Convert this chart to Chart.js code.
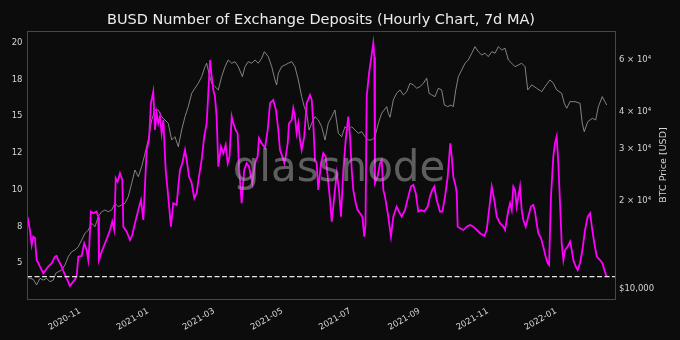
<!DOCTYPE html>
<html><head><meta charset="utf-8">
<script src="https://cdn.jsdelivr.net/npm/chart.js@4.4.1/dist/chart.umd.min.js"></script>
<style>html,body{margin:0;padding:0;background:#0c0c0c;}#wrap{width:680px;height:340px;}</style>
</head><body><div id="wrap"><canvas id="c" width="680" height="340"></canvas></div>
<script>
const titleText = 'BUSD Number of Exchange Deposits (Hourly Chart, 7d MA)';
const rightAxisTitle = 'BTC Price [USD]';
const watermarkText = 'glassnode';
// days since 2020-11-01
const depositDays = [-46.8,-44.8,-43.2,-41.8,-40.3,-38.8,-37.3,-35.8,-32.8,-30.7,-28.4,-25.3,-22.4,-20.9,-19.4,-16.4,-14.1,-11.9,-9.0,-6.0,-3.0,-1.5,1.5,3.8,6.0,7.4,8.3,9.8,11.9,14.9,16.4,17.0,19.4,22.4,24.8,26.9,28.9,30.7,32.0,33.7,35.8,37.9,38.8,41.8,44.8,46.8,49.2,52.2,54.6,56.7,59.7,61.8,63.5,65.6,67.1,68.6,70.1,71.6,73.1,74.6,76.7,79.0,81.4,83.5,86.5,88.0,89.5,91.6,94.0,95.5,97.6,100.0,102.3,104.4,106.5,108.9,111.2,113.4,116.4,117.9,119.3,120.8,122.3,123.8,126.2,128.3,130.4,132.2,133.8,135.8,137.2,139.4,141.1,142.3,144.7,147.0,149.2,151.3,153.0,154.2,156.6,159.0,160.2,162.6,165.6,168.0,170.1,173.0,175.4,177.5,179.0,181.1,182.9,184.1,185.9,187.1,189.5,190.9,192.4,193.9,195.4,196.9,198.4,200.7,202.9,205.9,207.4,208.8,210.3,211.8,213.3,215.7,217.8,219.9,221.7,223.8,225.3,227.6,229.8,231.8,233.6,235.7,237.8,240.1,241.7,243.2,244.6,246.8,248.5,250.6,252.7,254.4,255.5,256.6,258.7,260.4,262.5,263.4,264.0,266.4,268.5,270.0,271.5,273.0,275.9,278.3,280.4,283.4,285.5,287.9,290.9,293.8,296.2,298.3,300.5,302.8,305.2,308.1,311.2,313.2,315.3,317.1,319.2,322.2,324.3,326.7,329.1,331.4,332.7,334.1,336.3,337.2,338.0,340.1,343.1,346.1,349.1,352.0,355.1,358.0,361.9,364.0,366.1,368.5,370.8,373.0,375.9,378.9,380.4,383.4,384.9,386.4,387.8,389.3,390.8,392.3,393.8,395.3,396.8,398.9,401.2,403.6,405.7,407.2,408.7,410.2,412.6,414.6,416.8,418.6,419.8,421.5,423.6,425.1,426.6,428.1,429.6,431.1,432.6,434.1,436.5,438.6,440.1,441.5,443.7,445.4,447.5,449.6,452.0,454.4,456.5,458.5,460.3,462.5,465.4,467.5,469.3,470.8,471.7];
const depositValues = [8.13,7.26,6.24,6.81,6.72,5.22,5.02,4.77,4.32,4.54,4.77,5.0,5.45,5.5,5.22,4.77,4.32,3.98,3.46,3.75,4.09,5.45,5.5,6.36,5.9,5.22,6.13,8.51,8.4,8.51,8.17,5.22,5.79,6.36,6.81,7.26,7.83,7.26,10.78,10.55,11.12,10.66,7.49,7.15,6.58,6.92,7.72,8.62,9.3,7.94,12.7,13.38,15.88,16.67,14.06,15.2,14.52,14.97,13.84,14.74,11.34,9.53,7.49,9.08,8.96,10.21,11.34,11.8,12.7,12.02,10.89,10.44,9.42,9.76,10.89,12.02,13.61,14.52,18.82,17.69,16.78,16.33,14.97,11.57,12.93,12.48,13.04,11.8,12.23,14.97,14.52,14.06,13.84,11.57,9.08,11.34,11.8,11.57,10.89,10.44,11.8,12.25,13.5,13.16,12.84,14.06,15.88,16.1,15.42,14.06,12.7,12.25,11.8,12.25,13.16,14.52,14.74,15.54,14.97,13.84,14.52,13.38,12.7,13.61,15.88,16.44,16.1,14.52,12.02,11.82,9.98,11.8,12.48,12.25,10.89,9.3,7.83,9.53,11.12,9.98,8.17,11.34,13.38,14.97,13.61,11.34,9.98,9.08,8.62,8.4,8.17,6.81,7.6,16.33,17.92,18.82,19.96,19.04,10.44,10.89,11.8,12.02,9.98,9.53,8.17,6.81,8.17,8.85,8.51,8.17,8.62,9.53,10.21,10.32,9.76,8.51,8.62,8.51,8.85,9.53,9.98,10.21,9.3,8.51,8.51,9.53,10.89,13.16,12.25,10.89,10.21,9.76,7.49,7.38,7.26,7.49,7.6,7.49,7.26,7.04,6.86,7.26,8.62,10.21,9.3,8.17,7.72,7.49,7.26,8.62,9.08,8.62,10.21,9.98,8.85,9.53,10.21,8.62,7.94,7.49,8.17,8.85,8.96,8.51,7.72,7.04,6.7,6.13,5.45,5.0,4.88,9.53,12.25,13.16,13.61,11.8,9.08,6.36,5.22,5.9,6.13,6.47,5.9,5.22,4.77,4.54,5.0,5.9,7.26,8.17,8.4,7.26,6.36,5.45,5.22,5.0,4.54,4.2,4.09];
const btcDays = [-47.7,-44.8,-41.8,-38.8,-35.8,-32.8,-29.8,-26.9,-23.9,-21.7,-19.4,-16.4,-13.4,-10.5,-7.4,-4.5,-1.5,1.5,4.5,7.4,10.5,13.4,16.4,19.4,22.4,25.3,28.4,31.3,34.3,37.3,40.3,43.2,46.3,49.2,52.2,55.2,57.5,61.1,64.2,67.1,70.1,73.1,76.1,79.0,82.1,85.0,88.0,91.0,94.0,96.9,100.0,102.9,105.9,108.9,111.9,113.4,115.4,117.9,120.8,123.8,126.8,129.8,132.7,135.8,138.7,141.7,145.3,147.7,150.6,153.7,156.6,159.6,162.6,165.0,168.5,171.6,174.5,176.0,177.5,180.5,183.5,186.4,189.5,192.4,195.4,198.4,200.7,202.9,205.0,207.4,210.3,213.3,216.3,219.3,222.2,225.3,228.2,231.2,234.2,237.2,240.1,243.2,246.1,249.1,252.1,255.1,258.0,261.1,264.0,267.0,270.0,274.5,275.9,277.5,280.4,283.4,286.4,289.4,292.4,295.4,298.3,301.4,304.3,307.3,310.3,312.4,314.8,317.7,320.7,323.7,326.1,329.1,332.0,334.1,336.3,338.6,341.6,344.6,347.5,350.6,353.5,356.5,359.5,362.5,365.4,368.5,371.4,374.4,377.4,380.4,383.4,386.4,389.3,392.3,395.3,398.3,400.7,404.3,408.7,413.2,416.2,420.6,423.6,426.6,431.1,433.4,435.6,438.5,443.0,447.5,449.5,451.3,454.4,458.5,461.5,463.9,467.4,469.8,471.4];
const btcPrices = [11010,10870,10790,10320,10870,10730,10870,10590,10730,11310,11450,11600,12070,12880,13390,13580,13930,14680,15470,15870,16730,16290,17620,18320,18570,18320,18570,19570,19050,19310,19570,20610,22880,25400,24100,26060,28180,32120,37570,40630,40630,38550,37570,36610,32120,32960,30480,34740,38550,41690,46310,48160,50100,52750,57030,58580,54160,50100,48760,47530,52750,57030,60110,58580,59310,57030,52750,57030,59310,58580,60110,58580,60920,64140,61680,57030,51410,49440,54160,57030,57790,58580,59310,57030,51410,45100,41690,39600,34740,36610,38550,37570,35650,32120,36610,38550,40630,33850,32960,35650,34740,35650,34740,33850,34280,32960,32120,32120,32960,36610,39600,41690,39600,38370,43950,46310,47530,45700,46900,50100,49440,48160,48770,50100,52100,46310,45700,45100,48160,47530,42250,41690,42250,41690,47530,52750,55580,58580,60110,63350,66710,64140,62510,63350,61680,64140,63350,66710,65000,65880,60110,58580,57030,57790,58580,57030,47530,49440,48160,46900,48770,51410,50100,47530,46310,42810,41170,43360,43360,42810,36610,34280,37070,38070,37570,41690,45100,43360,42250];
const xTickDays = [0,61,120,181,242,304,365,426];
const xTickLabels = ['2020-11','2021-01','2021-03','2021-05','2021-07','2021-09','2021-11','2022-01'];
const leftTickValues = [5,7.5,10,12.5,15,17.5,20];
const leftTickLabels = ['5','8','10','12','15','18','20'];
const rightTickValues = [10000,20000,30000,40000,60000];
const rightTickLabels = ['$10,000','2 \u00d7 10\u2074','3 \u00d7 10\u2074','4 \u00d7 10\u2074','6 \u00d7 10\u2074'];

const BG = '#0c0c0c';
const FONT = 'DejaVu Sans';
Chart.defaults.font.family = FONT;
Chart.defaults.color = '#d4d4d4';

const depositPts = depositDays.map((d, i) => ({x: d, y: depositValues[i]}));
const btcPts = btcDays.map((d, i) => ({x: d, y: btcPrices[i]}));
const lastValue = depositValues[depositValues.length - 1];
const X_MIN = -47.4, X_MAX = 478.8;
const refPts = [{x: X_MIN, y: lastValue}, {x: X_MAX, y: lastValue}];

const decor = {
  id: 'decor',
  beforeDraw(chart) {
    const c = chart.ctx;
    c.save();
    c.fillStyle = BG;
    c.fillRect(0, 0, chart.width, chart.height);
    c.restore();
  },
  afterDatasetsDraw(chart) {
    const c = chart.ctx;
    c.save();
    c.font = '42px ' + FONT;
    c.fillStyle = 'rgba(170,170,170,0.52)';
    c.textAlign = 'center';
    c.textBaseline = 'alphabetic';
    c.fillText(watermarkText, 339, 181);
    c.restore();
  },
  afterDraw(chart) {
    const c = chart.ctx, a = chart.chartArea;
    c.save();
    c.strokeStyle = '#474747';
    c.lineWidth = 1;
    c.strokeRect(Math.round(a.left) + 0.5, Math.round(a.top) + 0.5, Math.round(a.right - a.left), Math.round(a.bottom - a.top));
    c.fillStyle = '#ececec';
    c.font = '14.5px ' + FONT;
    c.textAlign = 'center';
    c.textBaseline = 'alphabetic';
    c.fillText(titleText, (a.left + a.right) / 2, 24);
    c.translate(666, (a.top + a.bottom) / 2);
    c.rotate(-Math.PI / 2);
    c.font = '9.5px ' + FONT;
    c.fillStyle = '#d4d4d4';
    c.fillText(rightAxisTitle, 0, 0);
    c.restore();
  }
};

new Chart(document.getElementById('c'), {
  type: 'line',
  data: {
    datasets: [
      {data: refPts, yAxisID: 'y', borderColor: '#e6e6e6', borderWidth: 1.3, borderDash: [5, 2.5], pointRadius: 0, order: 0},
      {data: depositPts, yAxisID: 'y', borderColor: '#ff00ff', borderWidth: 1.8, pointRadius: 0, order: 1},
      {data: btcPts, yAxisID: 'y1', borderColor: '#a0a0a0', borderWidth: 0.8, pointRadius: 0, order: 2}
    ]
  },
  options: {
    responsive: false,
    animation: false,
    devicePixelRatio: 1,
    layout: {padding: {top: 31, left: 0, right: 0, bottom: 0}},
    plugins: {legend: {display: false}, tooltip: {enabled: false}, title: {display: false}},
    scales: {
      x: {
        type: 'linear', min: X_MIN, max: X_MAX,
        grid: {display: false, drawTicks: false},
        border: {display: false},
        afterBuildTicks: s => { s.ticks = xTickDays.map(v => ({value: v})); },
        afterFit: s => { s.height = 41; },
        ticks: {autoSkip: false, minRotation: 30, maxRotation: 30, padding: 7, font: {size: 8.5}, color: '#d4d4d4',
          callback: v => xTickLabels[xTickDays.indexOf(v)]}
      },
      y: {
        type: 'linear', position: 'left', min: 2.57, max: 20.79,
        grid: {display: false, drawTicks: false},
        border: {display: false},
        afterBuildTicks: s => { s.ticks = leftTickValues.map(v => ({value: v})); },
        afterFit: s => { s.width = 27; },
        ticks: {autoSkip: false, padding: 4.5, font: {size: 8.5}, color: '#d4d4d4',
          callback: v => leftTickLabels[leftTickValues.indexOf(v)]}
      },
      y1: {
        type: 'logarithmic', position: 'right', min: 9250, max: 75400,
        grid: {display: false, drawTicks: false},
        border: {display: false},
        afterBuildTicks: s => { s.ticks = rightTickValues.map(v => ({value: v})); },
        afterFit: s => { s.width = 65; },
        ticks: {autoSkip: false, padding: 4, font: {size: 8.5}, color: '#d4d4d4',
          callback: v => rightTickLabels[rightTickValues.indexOf(v)]}
      }
    }
  },
  plugins: [decor]
});
</script></body></html>
